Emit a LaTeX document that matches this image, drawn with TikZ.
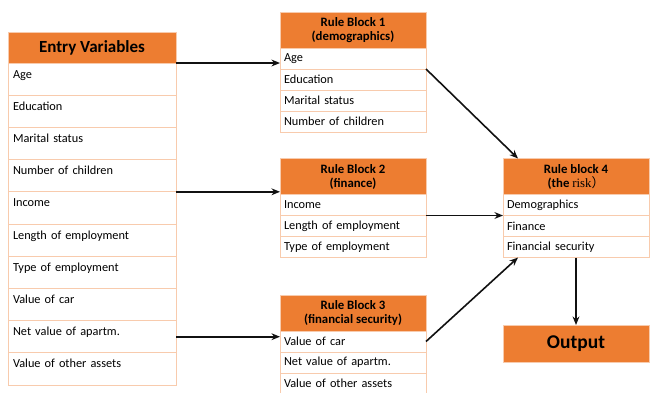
\documentclass[tikz,border=0pt]{standalone}
\usepackage{fontspec}
\setmainfont{Carlito}
\newfontfamily\riskfont{Liberation Serif}
\newfontfamily\cjkfont{Noto Sans CJK SC}
\usepackage{tikz}
\usetikzlibrary{positioning,arrows.meta}
\definecolor{hdr}{HTML}{ED7D31}
\definecolor{rowline}{HTML}{F8CBAD}
\definecolor{ink}{HTML}{111111}
\tikzset{
  evhead/.style={rectangle,draw=rowline,line width=0.8pt,fill=hdr,minimum width=168pt,
    minimum height=31pt,inner sep=0pt,outer sep=0pt,font=\fontsize{17}{19}\selectfont\bfseries},
  evrow/.style={rectangle,draw=rowline,line width=0.8pt,fill=white,text width=158pt,align=left,
    inner xsep=5pt,inner ysep=3pt,outer sep=0pt,text height=12pt,text depth=14.2pt,
    font=\fontsize{12.3}{14}\selectfont},
  rbhead/.style={rectangle,draw=rowline,line width=0.8pt,fill=hdr,minimum width=146pt,
    minimum height=36pt,inner sep=0pt,outer sep=0pt,align=center,
    font=\fontsize{12.8}{14}\selectfont\bfseries},
  rbrow/.style={rectangle,draw=rowline,line width=0.8pt,fill=white,text width=138pt,align=left,
    inner xsep=4pt,inner ysep=0pt,outer sep=0pt,minimum height=21pt,
    font=\fontsize{12.3}{14}\selectfont},
  outbox/.style={rectangle,draw=rowline,line width=0.8pt,fill=hdr,minimum width=146pt,
    minimum height=37pt,inner sep=0pt,outer sep=0pt,font=\fontsize{19.5}{21}\selectfont\bfseries},
  ar/.style={-{Stealth[length=3mm,width=2.4mm]},line width=1.6pt,draw=ink},
}
\begin{document}
\begin{tikzpicture}[x=1pt,y=-1pt,node distance=0pt]
  \useasboundingbox (0,0) rectangle (650,392);
  % entry variables
  \node[evhead] (ev) at (92,47.5) {Entry Variables};
  \node[evrow,below=of ev] (ev1) {Age};
  \node[evrow,below=of ev1] (ev2) {Education};
  \node[evrow,below=of ev2] (ev3) {Marital status};
  \node[evrow,below=of ev3] (ev4) {Number of children};
  \node[evrow,below=of ev4] (ev5) {Income};
  \node[evrow,below=of ev5] (ev6) {Length of employment};
  \node[evrow,below=of ev6] (ev7) {Type of employment};
  \node[evrow,below=of ev7] (ev8) {Value of car};
  \node[evrow,below=of ev8] (ev9) {Net value of apartm.};
  \node[evrow,below=of ev9] (ev10) {Value of other assets};
  % rule block 1
  \node[rbhead] (rb1) at (353,30) {Rule Block 1\\(demographics)};
  \node[rbrow,below=of rb1] (rb1a) {Age};
  \node[rbrow,below=of rb1a] (rb1b) {Education};
  \node[rbrow,below=of rb1b] (rb1c) {Marital status};
  \node[rbrow,below=of rb1c] (rb1d) {Number of children};
  % rule block 2
  \node[rbhead] (rb2) at (353,176.5) {Rule Block 2\\(finance)};
  \node[rbrow,below=of rb2] (rb2a) {Income};
  \node[rbrow,below=of rb2a] (rb2b) {Length of employment};
  \node[rbrow,below=of rb2b] (rb2c) {Type of employment};
  % rule block 3
  \node[rbhead] (rb3) at (353,313) {Rule Block 3\\(financial security)};
  \node[rbrow,below=of rb3] (rb3a) {Value of car};
  \node[rbrow,below=of rb3a] (rb3b) {Net value of apartm.};
  \node[rbrow,below=of rb3b] (rb3c) {Value of other assets};
  % rule block 4 and output
  \node[rbhead] (rb4) at (576,176.5) {Rule block 4\\(the\ {\riskfont\mdseries risk}{\cjkfont\mdseries ）}};
  \node[rbrow,below=of rb4] (rb4a) {Demographics};
  \node[rbrow,below=of rb4a] (rb4b) {Finance};
  \node[rbrow,below=of rb4b] (rb4c) {Financial security};
  \node[outbox] (out) at (576,343.5) {Output};
  % connectors
  \draw[ar] (ev.south east) -- (ev.south east -| rb1a.west);
  \draw[ar] (ev4.south east) -- (ev4.south east -| rb2.west);
  \draw[ar] (ev9.east) -- (ev9.east -| rb3a.west);
  \draw[ar] (rb1a.south east) -- ([xshift=15pt]rb4.north west);
  \draw[ar] (rb2a.south east) -- (rb2a.south east -| rb4a.west);
  \draw[ar] (rb3a.east) -- ([xshift=15pt]rb4c.south west);
  \draw[ar] (rb4c.south) -- (out.north);
\end{tikzpicture}
\end{document}
